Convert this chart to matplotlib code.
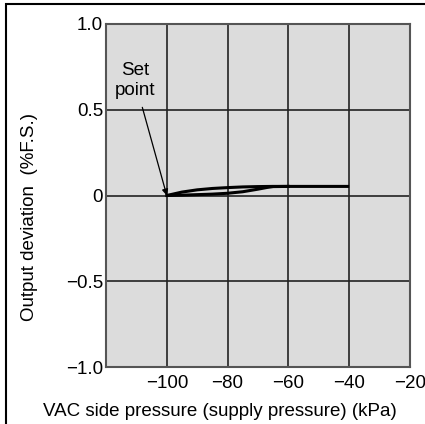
import matplotlib.pyplot as plt
from matplotlib.patches import Rectangle

plt.rcParams['font.family'] = ['Liberation Sans', 'DejaVu Sans']

# Datos (kPa, %F.S.)
up_x = [-100, -95, -90, -85, -80, -75, -70, -65, -60, -50, -40]
up_y = [0.0, 0.02, 0.033, 0.041, 0.046, 0.05, 0.052, 0.053, 0.053, 0.053, 0.053]
low_x = [-100, -95, -90, -85, -80, -75, -70, -67, -65, -60]
low_y = [0.0, 0.002, 0.005, 0.008, 0.013, 0.022, 0.037, 0.047, 0.052, 0.053]
x_ticks = [-100, -80, -60, -40, -20]
x_labels = ['\u2212100', '\u221280', '\u221260', '\u221240', '\u221220']
y_ticks = [-1.0, -0.5, 0, 0.5, 1.0]
y_labels = ['\u22121.0', '\u22120.5', '0', '0.5', '1.0']

W, H = 425, 424
fig = plt.figure(figsize=(W / 100, H / 100), dpi=100)
ax = fig.add_axes([106 / W, 1 - 367 / H, (410 - 106) / W, (367 - 24) / H])
ax.set_facecolor('#dcdcdc')

ax.plot(up_x, up_y, color='black', lw=2.2, solid_capstyle='butt')
ax.plot(low_x, low_y, color='black', lw=2.2)

ax.set_xlim(-120, -20)
ax.set_ylim(-1.0, 1.0)
ax.set_xticks(x_ticks, x_labels)
ax.set_yticks(y_ticks, y_labels)
ax.tick_params(length=0, labelsize=13.5, colors='black')
ax.tick_params(axis='x', pad=6)
ax.tick_params(axis='y', pad=2)
ax.grid(True, color='#222222', lw=1.2)
ax.set_axisbelow(True)
for s in ax.spines.values():
    s.set_color('#555555')
    s.set_linewidth(1.5)

# Anotación "Set point"
ax.annotate('Set\npoint', xy=(-100, 0), xytext=(-110.5, 0.67),
            ha='center', va='center', fontsize=13.5, linespacing=1.25,
            arrowprops=dict(arrowstyle='-|>', color='black', lw=0.9,
                            shrinkA=4, shrinkB=0, mutation_scale=9))

fig.text(30 / W, 1 - 217 / H, 'Output deviation  (%F.S.)', rotation=90,
         ha='center', va='center', fontsize=13.5)
fig.text(220 / W, 1 - 411 / H, 'VAC side pressure (supply pressure) (kPa)',
         ha='center', va='center', fontsize=13.5)

# Marco exterior (solo lados izquierdo y superior visibles)
fig.patches.append(Rectangle((6 / W, -0.1), 1.2, 1 - 3.5 / H + 0.1,
                             transform=fig.transFigure, fill=False,
                             ec='black', lw=1.5))

fig.savefig('out.png', dpi=100)
